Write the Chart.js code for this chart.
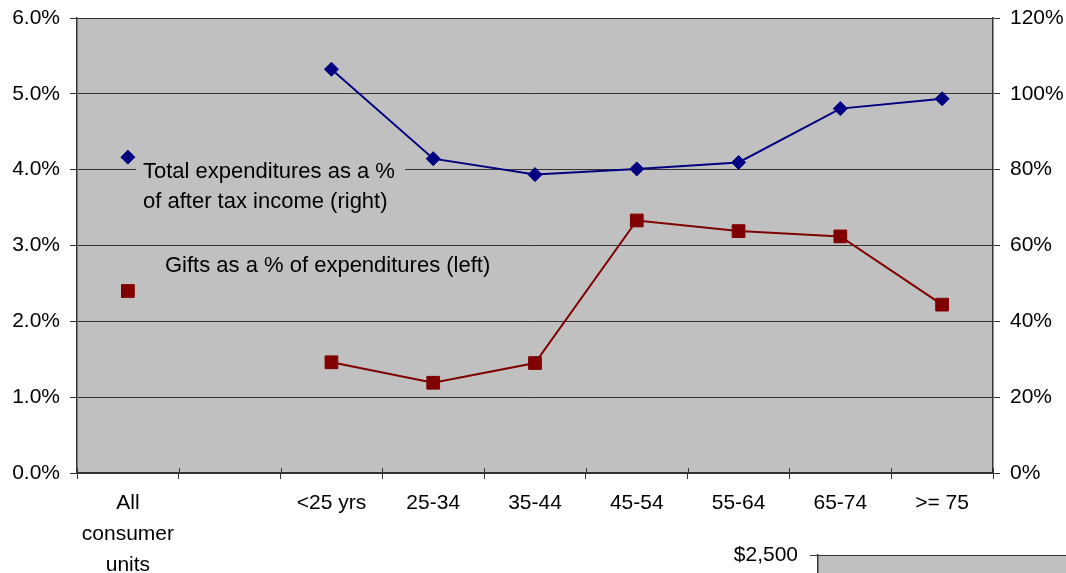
<!DOCTYPE html>
<html>
<head>
<meta charset="utf-8">
<script src="https://cdn.jsdelivr.net/npm/chart.js@4/dist/chart.umd.min.js"></script>
<style>
  html, body { margin: 0; padding: 0; background: #fff; overflow: hidden; }
  #main  { position: absolute; left: 0; top: 0; width: 1066px; height: 573px; }
  #inset { position: absolute; left: 700px; top: 530px; width: 366px; height: 220px; }
</style>
</head>
<body>
<div id="main"><canvas id="spending"></canvas></div>
<div id="inset"><canvas id="dollars"></canvas></div>
<script>
// Age groups of the reference person (one empty slot separates the total)
const categories = [['All', 'consumer', 'units'], '', '<25 yrs', '25-34', '35-44', '45-54', '55-64', '65-74', '>= 75'];

// Total expenditures as a % of after-tax income (right axis)
const totalExpPctIncome = [83.3, null, 106.5, 82.9, 78.7, 80.2, 81.9, 96.1, 98.7];

// Gifts as a % of total expenditures (left axis)
const giftsPctExp = [2.40, null, 1.46, 1.19, 1.45, 3.33, 3.19, 3.12, 2.22];

// Axis tick values
const leftTicks  = [0, 1, 2, 3, 4, 5, 6];
const rightTicks = [0, 20, 40, 60, 80, 100, 120];
const dollarTicks = [0, 500, 1000, 1500, 2000, 2500];

// In-plot series captions
const totalCaption = ['Total expenditures as a %', 'of after tax income (right)'];
const giftsCaption = ['Gifts as a % of expenditures (left)'];

const FONT = '"Liberation Sans", Arial, Helvetica, sans-serif';
const PLOT_BG = '#C0C0C0';
const GRID = '#333333';

Chart.defaults.font.family = FONT;
Chart.defaults.font.size = 21;
Chart.defaults.color = '#000';

const plotBackground = {
  id: 'plotBackground',
  beforeDraw(chart) {
    const { ctx, chartArea: a } = chart;
    ctx.save();
    ctx.fillStyle = PLOT_BG;
    ctx.fillRect(a.left, a.top, a.right - a.left, a.bottom - a.top);
    ctx.restore();
  }
};

// Captions sit on a patch of plot colour so the grid line stops around them
const captions = {
  id: 'captions',
  beforeDatasetsDraw(chart) {
    const { ctx, chartArea: a } = chart;
    ctx.save();
    ctx.fillStyle = PLOT_BG;
    ctx.fillRect(a.left + 59, a.top + 137, 269, 58);
    ctx.fillStyle = '#000';
    ctx.font = '22px ' + FONT;
    ctx.textAlign = 'left';
    ctx.textBaseline = 'alphabetic';
    ctx.fillText(totalCaption[0], a.left + 66, a.top + 160);
    ctx.fillText(totalCaption[1], a.left + 66, a.top + 190);
    ctx.fillText(giftsCaption[0], a.left + 88, a.top + 254);
    ctx.restore();
  }
};

// Category tick marks cross the axis line slightly
const crossTicks = {
  id: 'crossTicks',
  afterDraw(chart) {
    const x = chart.scales.x;
    const { ctx, chartArea: a } = chart;
    const n = x.ticks.length;
    const step = (a.right - a.left) / n;
    ctx.save();
    ctx.strokeStyle = GRID;
    ctx.lineWidth = 1;
    for (let i = 0; i <= n; i++) {
      const px = Math.round(a.left + i * step) + 0.5;
      ctx.beginPath();
      ctx.moveTo(px, a.bottom - 5);
      ctx.lineTo(px, a.bottom);
      ctx.stroke();
    }
    ctx.restore();
  }
};

// Value axes: fixed width, no extra label overhang padding
const fitValueAxis = width => s => {
  s.width = width;
  s.paddingTop = 0;
  s.paddingBottom = 0;
};

new Chart(document.getElementById('spending'), {
  type: 'line',
  data: {
    labels: categories,
    datasets: [
      {
        label: 'Total expenditures as a % of after tax income (right)',
        data: totalExpPctIncome,
        yAxisID: 'y1',
        borderColor: '#000080',
        backgroundColor: '#000080',
        borderWidth: 2,
        pointStyle: 'rectRot',
        pointRadius: 7,
        pointBorderWidth: 1,
        tension: 0,
        spanGaps: false
      },
      {
        label: 'Gifts as a % of expenditures (left)',
        data: giftsPctExp,
        yAxisID: 'y',
        borderColor: '#800000',
        backgroundColor: '#800000',
        borderWidth: 2,
        pointStyle: 'rect',
        pointRadius: 9,
        pointBorderWidth: 1,
        tension: 0,
        spanGaps: false
      }
    ]
  },
  options: {
    responsive: true,
    maintainAspectRatio: false,
    animation: false,
    layout: { padding: { top: 18, left: 0, right: 0, bottom: 0 } },
    plugins: { legend: { display: false }, tooltip: { enabled: false } },
    scales: {
      x: {
        type: 'category',
        offset: true,
        grid: { offset: true, drawOnChartArea: false, drawTicks: true, tickLength: 6, color: GRID },
        border: { color: GRID, width: 1.5 },
        ticks: { padding: 9, maxRotation: 0, autoSkip: false, font: { size: 21, lineHeight: 1.48 } },
        afterFit(s) { s.height = 100; }
      },
      y: {
        position: 'left',
        min: 0,
        max: 6,
        afterBuildTicks(s) { s.ticks = leftTicks.map(v => ({ value: v })); },
        grid: { color: GRID, tickLength: 7 },
        border: { color: GRID, width: 1.5 },
        ticks: { padding: 10, callback: v => v.toFixed(1) + '%' },
        afterFit: fitValueAxis(77)
      },
      y1: {
        position: 'right',
        min: 0,
        max: 120,
        afterBuildTicks(s) { s.ticks = rightTicks.map(v => ({ value: v })); },
        grid: { color: GRID, tickLength: 7, drawOnChartArea: false },
        border: { color: GRID, width: 1.5 },
        ticks: { padding: 10, callback: v => v + '%' },
        afterFit: fitValueAxis(73)
      }
    }
  },
  plugins: [plotBackground, captions, crossTicks]
});

// Dollar-scale panel below
new Chart(document.getElementById('dollars'), {
  type: 'bar',
  data: { labels: [], datasets: [] },
  options: {
    responsive: true,
    maintainAspectRatio: false,
    animation: false,
    layout: { padding: { top: 25, left: 0, right: 0, bottom: 0 } },
    plugins: { legend: { display: false }, tooltip: { enabled: false } },
    scales: {
      x: { display: false },
      y: {
        min: 0,
        max: 2500,
        afterBuildTicks(s) { s.ticks = dollarTicks.map(v => ({ value: v })); },
        grid: { color: GRID, tickLength: 8 },
        border: { color: GRID, width: 1.5 },
        ticks: { padding: 12, callback: v => '$' + v.toLocaleString('en-US') },
        afterFit: fitValueAxis(118)
      }
    }
  },
  plugins: [plotBackground]
});
</script>
</body>
</html>
